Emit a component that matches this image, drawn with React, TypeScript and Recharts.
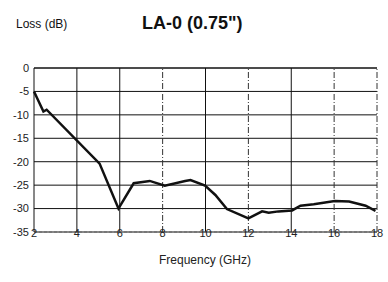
import React from "react";
import { LineChart, Line, XAxis, YAxis, CartesianGrid, ReferenceLine } from "recharts";

const frequencyGHz = [2, 2.44, 2.59, 5.06, 5.94, 6.65, 7.4, 8.1, 9.05, 9.3, 9.98, 10.46, 11.0, 12.0, 12.64, 12.95, 13.4, 14.04, 14.43, 15.05, 16.03, 16.7, 17.47, 17.93];
const lossDb = [-5, -9.3, -8.9, -20.4, -30, -24.6, -24.1, -25.1, -24.1, -23.9, -25.1, -27.1, -30.1, -32.1, -30.6, -30.9, -30.6, -30.4, -29.4, -29.1, -28.4, -28.5, -29.4, -30.5];
const xTicks = [2, 4, 6, 8, 10, 12, 14, 16, 18];
const yTicks = [0, -5, -10, -15, -20, -25, -30, -35];
const dashedVerticals = [8, 12, 16, 18];

const data = frequencyGHz.map((f, i) => ({ f, loss: lossDb[i] }));

const font = "'Liberation Sans', Arial, Helvetica, sans-serif";

export default function App() {
  return (
    <div style={{ position: "absolute", left: 0, top: 0, width: 388, height: 282, background: "#fff", fontFamily: font }}>
      <div style={{ position: "absolute", left: 16, top: 17, fontSize: 12, color: "#111", whiteSpace: "nowrap" }}>Loss (dB)</div>
      <div style={{ position: "absolute", left: 142, top: 13, fontSize: 18, fontWeight: "bold", color: "#111", whiteSpace: "nowrap" }}>LA-0 (0.75")</div>
      <div style={{ position: "absolute", left: 0, top: 253, width: 410, textAlign: "center", fontSize: 12, color: "#222", whiteSpace: "nowrap" }}>Frequency (GHz)</div>
      <LineChart width={388} height={282} data={data} margin={{ top: 68, right: 11, bottom: 20, left: 0 }}>
        <CartesianGrid stroke="#111" strokeWidth={1} vertical={false} />
        <XAxis
          dataKey="f"
          type="number"
          domain={[2, 18]}
          ticks={xTicks}
          height={30}
          tickLine={false}
          tickSize={0}
          tickMargin={-3}
          axisLine={{ stroke: "#666", strokeDasharray: "3 2" }}
          tick={{ fill: "#222", fontSize: 11, fontFamily: font }}
          interval={0}
        />
        <YAxis
          type="number"
          domain={[-35, 0]}
          ticks={yTicks}
          width={34}
          tickLine={false}
          tickSize={0}
          tickMargin={5}
          axisLine={{ stroke: "#111" }}
          tick={{ fill: "#222", fontSize: 11, fontFamily: font }}
          interval={0}
        />
        {xTicks.filter((t) => t !== 2).map((t) => (
          <ReferenceLine
            key={t}
            x={t}
            stroke={dashedVerticals.includes(t) ? "#333" : "#111"}
            strokeDasharray={dashedVerticals.includes(t) ? "6 2 1 2" : undefined}
          />
        ))}
        <ReferenceLine y={0} stroke="#111" />
        <Line type="linear" dataKey="loss" stroke="#111" strokeWidth={2.5} dot={false} isAnimationActive={false} />
      </LineChart>
    </div>
  );
}
